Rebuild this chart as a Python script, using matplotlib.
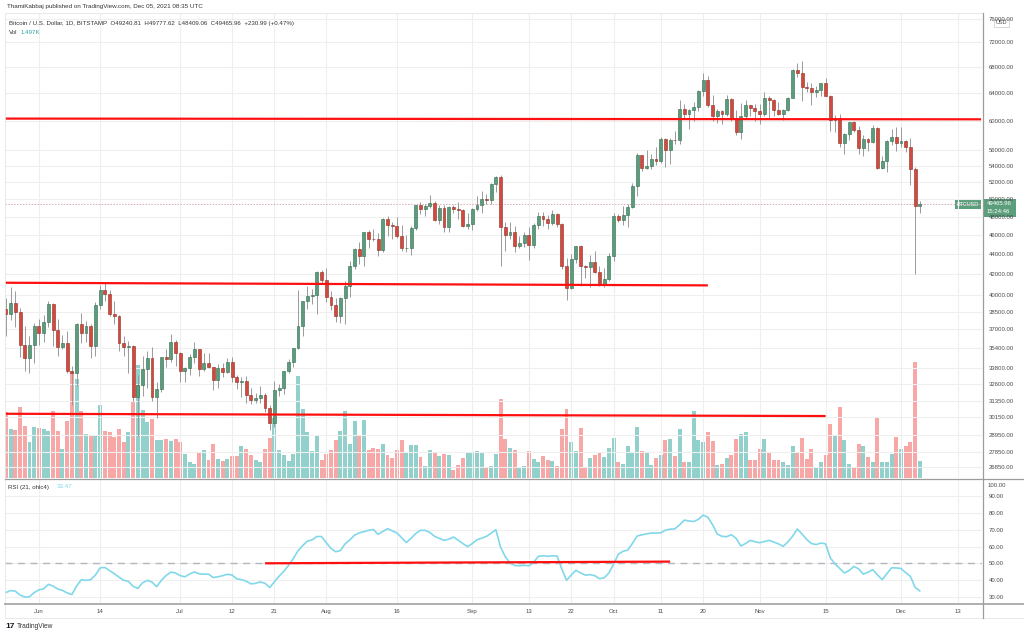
import numpy as np
import pandas as pd
import matplotlib
matplotlib.use("Agg")
import matplotlib.pyplot as plt
from matplotlib.patches import Rectangle
from matplotlib.lines import Line2D
from matplotlib.ticker import NullLocator

plt.rcParams['font.family'] = ['Liberation Sans', 'DejaVu Sans']

# daily BTC/USD (Bitstamp) 2021-05-25 .. 2021-12-05
start_date = '2021-05-25'
opens = [38800, 38300, 39300, 38500, 35700, 34600, 35700,
         37300, 36700, 37600, 39200, 36900, 35500, 35800, 33600, 33400, 37400,
         36700, 37300, 35550, 39100, 40500, 40150, 38350, 38100, 35800, 35500,
         35600, 31600, 32500, 33700, 34600, 31600, 32200, 34700, 34500, 35900,
         35040, 33570, 33800, 34700, 35300, 33700, 34200, 33900, 32870, 33800,
         33500, 34260, 33100, 32700, 32820, 31780, 31420, 31520, 31780, 30840,
         29790, 32140, 32300, 33590, 34290, 35380, 37270, 39460, 39980, 40030, 42230,
         41500, 39880, 39160, 38150, 39740, 40870, 42820, 44600, 43800, 46300,
         45600, 45570, 44430, 47800, 47100, 47040, 45930, 44690, 44700, 46760,
         49340, 48870, 49280, 49540, 47710, 48970, 46940, 49060, 48900, 48830, 47050,
         47170, 48850, 49320, 50030, 49940, 51770, 52660, 46860, 46070, 46400,
         44850, 45160, 46060, 44960, 47090, 48150, 47760, 47300, 48310, 47260,
         42840, 40690, 43570, 44880, 42840, 42720, 43200, 42230, 41030, 41520,
         43790, 48120, 47710, 48200, 49110, 51510, 55360, 53800, 53970, 54950,
         54660, 57480, 56040, 57400, 57360, 61670, 60880, 61530, 62010, 64280,
         66000, 62210, 60690, 61390, 60890, 63040, 60360, 58480, 60620, 62270, 61860,
         61320, 61000, 63230, 62970, 61450, 61000, 61500, 63300, 67550, 66970,
         64880, 64800, 64150, 64400, 65470, 63560, 60160, 60370, 56940, 58120,
         59760, 58700, 56300, 57570, 57160, 58960, 53730, 54710, 57270, 57800,
         56950, 57200, 56500, 53600, 49240.81]
highs = [39800, 40800, 40400, 38900, 37300, 36400, 37500,
         37900, 38200, 39500, 39300, 37900, 36500, 36800, 34000, 37500, 38400,
         37700, 37400, 39400, 41000, 41300, 40500, 39500, 38200, 36400, 36000,
         35700, 33300, 34800, 35200, 35500, 32700, 34700, 35300, 36600, 36100,
         35050, 33900, 34900, 35900, 35300, 35000, 35000, 33900, 34100, 34200,
         34600, 34700, 33300, 33100, 33200, 32300, 31900, 32400, 31900, 31000,
         32800, 32600, 33600, 34500, 35400, 40500, 39500, 40900, 40600, 42300, 42400,
         42600, 40400, 39800, 39900, 41400, 43300, 44700, 45300, 46400, 46600,
         46700, 46200, 47900, 48100, 47400, 48000, 47100, 46000, 47000, 49400,
         49700, 49500, 50500, 49800, 49300, 49400, 49200, 49300, 49700, 48900, 48400,
         49000, 50400, 51000, 50600, 51900, 52800, 52900, 47400, 47400, 47000,
         45900, 46400, 46900, 47300, 48500, 48500, 48200, 48800, 48400, 47300,
         43600, 44000, 44900, 45000, 42900, 43900, 44300, 42800, 42600, 44100,
         48400, 48300, 49200, 49500, 51900, 55700, 55400, 56100, 55500, 56500,
         57800, 57700, 57700, 58600, 62900, 62400, 61700, 62600, 64500, 67000,
         66600, 63700, 61700, 61500, 63700, 63300, 61500, 62500, 62900, 62300, 62400,
         62400, 64200, 63500, 63100, 62600, 61600, 63350, 67700, 68600, 69000,
         65600, 65500, 65000, 65550, 66300, 63650, 60800, 60900, 58300, 59850,
         60000, 59300, 58000, 57700, 59400, 59100, 55300, 57400, 58800, 59200,
         59100, 57400, 57600, 53900, 49777.62]
lows = [36400, 37800, 37200, 34700, 33600, 33400, 34200,
        35700, 35900, 37200, 35600, 34800, 35300, 33400, 31000, 32400, 35800,
        35900, 34600, 34800, 38800, 39500, 38100, 37400, 35200, 34800, 33400,
        31300, 28900, 31700, 32300, 31300, 30100, 32000, 33900, 34300, 34000,
        32700, 32700, 33300, 34200, 33200, 33600, 33800, 32100, 32300, 33100,
        33400, 32700, 32200, 31600, 31200, 31100, 31200, 31200, 30500, 29300,
        29500, 31700, 31800, 33400, 33900, 35300, 36400, 38800, 39200, 38300, 41100,
        39400, 38700, 37600, 37500, 37400, 39900, 42500, 43000, 42800, 44700,
        45400, 43800, 44200, 45900, 45600, 45700, 44400, 44200, 43900, 46600,
        48300, 48100, 49000, 47600, 47200, 46400, 46400, 48400, 47800, 46900, 46700,
        46600, 48700, 48400, 49500, 49500, 50900, 42800, 44400, 45600, 44200,
        44700, 44800, 43400, 44700, 46700, 47000, 46700, 47100, 46900, 42500,
        39600, 40600, 43100, 40900, 41700, 40800, 42100, 40900, 40800, 41400,
        43300, 47400, 47100, 46900, 49000, 50400, 53400, 53600, 53700, 54100,
        54400, 53900, 54300, 56900, 56900, 60200, 58900, 60000, 61400, 63500,
        62000, 60000, 59700, 59600, 60700, 59900, 58000, 57500, 60200, 60700, 60000,
        59500, 60700, 60400, 60700, 60800, 60100, 61400, 63200, 66400, 62800,
        64100, 62300, 63400, 63600, 63500, 58600, 58400, 56500, 55600, 57400,
        58500, 55600, 55300, 55900, 57000, 53600, 53600, 53300, 56700, 55900,
        56500, 55800, 51700, 42000, 48409.06]
closes = [38300, 39300, 38500, 35700, 34600, 35700, 37300,
          36700, 37600, 39200, 36900, 35500, 35800, 33600, 33400, 37400, 36700,
          37300, 35550, 39100, 40500, 40150, 38350, 38100, 35800, 35500, 35600,
          31600, 32500, 33700, 34600, 31600, 32200, 34700, 34500, 35900, 35040,
          33570, 33800, 34700, 35300, 33700, 34200, 33900, 32870, 33800, 33500,
          34260, 33100, 32700, 32820, 31780, 31420, 31520, 31780, 30840, 29790,
          32140, 32300, 33590, 34290, 35380, 37270, 39460, 39980, 40030, 42230, 41500,
          39880, 39160, 38150, 39740, 40870, 42820, 44600, 43800, 46300, 45600,
          45570, 44430, 47800, 47100, 47040, 45930, 44690, 44700, 46760, 49340,
          48870, 49280, 49540, 47710, 48970, 46940, 49060, 48900, 48830, 47050, 47170,
          48850, 49320, 50030, 49940, 51770, 52660, 46860, 46070, 46400, 44850,
          45160, 46060, 44960, 47090, 48150, 47760, 47300, 48310, 47260, 42840,
          40690, 43570, 44880, 42840, 42720, 43200, 42230, 41030, 41520, 43790,
          48120, 47710, 48200, 49110, 51510, 55360, 53800, 53970, 54950, 54660,
          57480, 56040, 57400, 57360, 61670, 60880, 61530, 62010, 64280, 66000,
          62210, 60690, 61390, 60890, 63040, 60360, 58480, 60620, 62270, 61860, 61320,
          61000, 63230, 62970, 61450, 61000, 61500, 63300, 67550, 66970, 64880,
          64800, 64150, 64400, 65470, 63560, 60160, 60370, 56940, 58120, 59760,
          58700, 56300, 57570, 57160, 58960, 53730, 54710, 57270, 57800, 56950,
          57200, 56500, 53600, 49240.81, 49465.96]
# volume, thousand BTC
volume_k = [5.9, 4.4, 4.3, 6.4, 4.7, 3.2, 4.6,
            4.5, 4.4, 4.2, 6.0, 4.2, 2.6, 5.1, 9.5, 8.9, 6.0,
            4.0, 3.9, 3.8, 6.6, 4.2, 4.1, 3.7, 4.4, 3.2, 4.1,
            6.8, 10.2, 6.1, 5.0, 5.3, 3.4, 3.4, 3.5, 3.3, 3.5,
            3.2, 2.2, 1.4, 1.3, 2.3, 2.5, 1.6, 3.1, 1.7, 1.5,
            1.7, 2.0, 2.0, 2.9, 2.6, 2.1, 1.6, 1.4, 2.6, 3.6,
            5.4, 2.5, 2.1, 1.5, 2.2, 9.2, 6.2, 4.1, 2.4, 3.8, 1.6,
            2.2, 2.5, 3.4, 4.2, 6.0, 3.1, 5.1, 3.8, 5.2, 2.5,
            2.7, 2.6, 3.1, 2.1, 1.8, 2.5, 3.4, 2.3, 3.0, 3.0,
            1.9, 1.1, 2.5, 2.3, 2.0, 2.2, 2.1, 0.7, 1.2, 1.8, 2.3,
            2.3, 2.4, 2.3, 0.9, 1.1, 2.2, 7.1, 3.5, 2.7, 2.5,
            1.0, 1.1, 2.4, 1.7, 1.4, 2.0, 1.6, 1.5, 1.1, 4.4,
            6.2, 3.2, 2.4, 4.5, 1.0, 1.8, 2.1, 2.3, 1.9, 2.7,
            3.6, 1.4, 1.3, 2.9, 2.3, 4.6, 2.4, 2.3, 1.2, 1.8,
            2.1, 3.4, 3.5, 2.0, 4.4, 1.4, 1.4, 6.0, 3.4, 3.2,
            4.1, 3.3, 1.2, 1.3, 1.8, 2.1, 3.5, 4.0, 4.1, 1.6, 1.6,
            2.6, 3.5, 2.3, 1.6, 1.6, 1.4, 1.2, 2.9, 2.3, 3.6,
            1.7, 2.6, 0.9, 1.4, 2.1, 4.9, 3.9, 6.4, 3.4, 1.3,
            0.9, 3.1, 2.9, 1.9, 1.4, 5.5, 1.4, 1.4, 2.2, 3.7,
            2.6, 2.9, 3.2, 10.4, 1.497]
rsi = [32.5, 33.7, 33.3, 31.0, 29.8, 30.0, 32.5, 34.1, 34.7, 37.4,
       36.4, 34.6, 33.8, 32.3, 31.3, 36.4, 40.2, 39.8, 40.2, 43.0,
       47.3, 47.5, 45.6, 43.8, 41.7, 39.8, 39.2, 36.2, 35.0, 38.3,
       39.8, 38.8, 36.0, 39.8, 42.7, 44.7, 44.2, 42.6, 41.9, 43.6,
       44.8, 43.7, 43.5, 43.5, 41.5, 41.9, 42.6, 43.4, 43.0, 40.7,
       40.2, 39.3, 37.7, 38.0, 38.9, 38.0, 35.5, 39.0, 42.3, 45.2,
       48.8, 52.8, 57.5, 60.6, 63.3, 64.0, 66.0, 66.0, 62.3, 58.9,
       56.9, 57.6, 61.6, 64.0, 66.8, 68.2, 68.9, 69.7, 70.2, 67.3,
       69.0, 70.7, 69.4, 68.1, 65.3, 62.4, 65.0, 67.8, 69.7, 69.7,
       68.4, 66.1, 64.9, 63.7, 64.4, 65.7, 63.8, 61.8, 59.9, 61.8,
       64.1, 65.0, 66.1, 68.0, 70.1, 59.6, 53.9, 50.2, 48.7, 48.5,
       48.8, 48.5, 50.5, 54.1, 54.5, 54.2, 54.5, 54.3, 46.6, 39.8,
       43.0, 45.8, 44.2, 42.9, 43.2, 42.6, 40.8, 41.3, 44.2, 49.5,
       55.4, 57.2, 57.9, 61.9, 66.3, 67.0, 67.6, 68.1, 68.1, 68.2,
       69.8, 70.4, 70.6, 72.9, 75.8, 75.3, 75.0, 76.3, 78.8, 77.5,
       73.1, 67.5, 66.1, 65.9, 67.1, 64.9, 60.4, 61.8, 63.7, 62.9,
       62.3, 63.0, 63.7, 62.7, 61.6, 60.1, 62.8, 66.2, 70.5, 67.5,
       64.2, 61.8, 61.2, 62.1, 61.6, 53.2, 49.6, 46.9, 44.2, 45.7,
       48.1, 46.7, 43.5, 44.6, 46.2, 43.1, 40.2, 43.8, 47.3, 47.2,
       46.9, 44.4, 42.2, 35.6, 33.47]

price_ticks = [26850, 27850, 28950, 30150, 31350, 32600, 33800, 35400, 37000,
               38500, 40000, 42000, 44000, 46000, 48000, 50000, 52000, 54000,
               56000, 60000, 64000, 68000, 72000, 76000]
rsi_ticks = [30, 40, 50, 60, 70, 80, 90]
date_ticks = ['2021-06-01', '2021-06-14', '2021-07-01', '2021-07-12', '2021-07-21',
              '2021-08-01', '2021-08-16', '2021-09-01', '2021-09-13', '2021-09-22',
              '2021-10-01', '2021-10-11', '2021-10-20', '2021-11-01', '2021-11-15',
              '2021-12-01', '2021-12-13']
date_labels = ['Jun', '14', 'Jul', '12', '21', 'Aug', '16', 'Sep', '13', '22',
               'Oct', '11', '20', 'Nov', '15', 'Dec', '13']

# drawn trend lines: (date, price) endpoints
hline_top = [('2021-05-25', 60300), ('2021-12-18', 60200)]
hline_mid = [('2021-05-25', 41200), ('2021-10-21', 40950)]
hline_low = [('2021-05-25', 30400), ('2021-11-15', 30240)]
rsi_line = [('2021-07-19', 50.0), ('2021-10-13', 51.0)]

o = np.array(opens, float)
h = np.array(highs, float)
l = np.array(lows, float)
c = np.array(closes, float)
t0 = pd.Timestamp(start_date)
dates = pd.date_range(t0, periods=len(c), freq='D')
x = np.arange(len(c))


def day(d):
    return (pd.Timestamp(d) - t0).days


W, H = 1024, 636
fig = plt.figure(figsize=(W / 100, H / 100), dpi=100)
fig.patch.set_facecolor('white')


def fx(px):
    return px / W


def fy(py):
    return 1 - py / H


up_fill, up_edge = '#5a9c7b', '#2f6b4c'
dn_fill, dn_edge = '#d24a3d', '#8e2a21'
vol_up, vol_dn = '#92d1cb', '#f7a8a6'
grid_c = '#efefef'
txt_c = '#4a4a4a'
fs = 4.3

x_left, x_right = -0.2, 207.2
ax = fig.add_axes([fx(5), fy(478), fx(977), 465 / H])
axv = ax.twinx()
ax.set_zorder(axv.get_zorder() + 1)
ax.patch.set_visible(False)
axv.patch.set_facecolor('white')

rising = c >= o
axv.bar(x, volume_k, width=0.84, color=np.where(rising, vol_up, vol_dn), linewidth=0)
axv.set_ylim(0, 41.85)
axv.set_yticks([])
for s in axv.spines.values():
    s.set_visible(False)

ax.set_yscale('log')
for p in price_ticks:
    ax.axhline(p, color=grid_c, lw=0.8, zorder=0)
tick_x = [day(d) for d in date_ticks]
for tx in tick_x:
    ax.axvline(tx, color=grid_c, lw=0.8, zorder=0)

ax.vlines(x, l, h, color='#9a9a9a', lw=0.7, zorder=2)
ax.bar(x, np.maximum(np.abs(c - o), 1.0), bottom=np.minimum(o, c), width=0.62,
       color=np.where(rising, up_fill, dn_fill),
       edgecolor=np.where(rising, up_edge, dn_edge), linewidth=0.4, zorder=3)

for seg in (hline_top, hline_mid, hline_low):
    ax.plot([day(seg[0][0]) - 0.2, day(seg[1][0])], [seg[0][1], seg[1][1]],
            color='#ff1010', lw=1.6, zorder=4, solid_capstyle='butt')

ax.axhline(c[-1], color='#d9a9b3', lw=0.7, ls=(0, (1.5, 1.5)), zorder=1)

ax.set_xlim(x_left, x_right)
ax.set_ylim(26191, 77040)
ax.yaxis.tick_right()
ax.yaxis.set_minor_locator(NullLocator())
ax.set_yticks(price_ticks)
ax.set_yticklabels(['%.2f' % p for p in price_ticks])
ax.tick_params(axis='y', length=0, pad=5, labelsize=fs, labelcolor=txt_c)
ax.set_xticks(tick_x)
ax.tick_params(axis='x', length=0, labelbottom=False)
for s in ax.spines.values():
    s.set_visible(False)

# RSI pane
axr = fig.add_axes([fx(5), fy(603), fx(977), 124 / H])
for r in rsi_ticks:
    axr.axhline(r, color=grid_c, lw=0.8, zorder=0)
for tx in tick_x:
    axr.axvline(tx, color=grid_c, lw=0.8, zorder=0)
axr.axhline(50, color='#b4b6bd', lw=1.0, ls=(0, (5, 4)), zorder=1)
axr.plot(x, rsi, color='#80d8ea', lw=1.2, zorder=3)
axr.plot([day(rsi_line[0][0]), day(rsi_line[1][0])], [rsi_line[0][1], rsi_line[1][1]],
         color='#ff1010', lw=1.6, zorder=4, solid_capstyle='butt')
axr.set_xlim(x_left, x_right)
axr.set_ylim(26.25, 100.4)
axr.yaxis.tick_right()
axr.set_yticks(rsi_ticks)
axr.set_yticklabels(['%.2f' % r for r in rsi_ticks])
axr.tick_params(axis='y', length=0, pad=5, labelsize=fs, labelcolor=txt_c)
axr.set_xticks(tick_x)
axr.set_xticklabels(date_labels)
axr.tick_params(axis='x', length=0, pad=4, labelsize=fs, labelcolor=txt_c)
for s in axr.spines.values():
    s.set_visible(False)

# frame lines
def fline(x0, y0, x1, y1, color, lw):
    fig.add_artist(Line2D([fx(x0), fx(x1)], [fy(y0), fy(y1)], color=color, lw=lw,
                          transform=fig.transFigure))

fline(5, 13, 982, 13, '#e6e6e6', 0.6)
fline(5, 13, 5, 617, '#e6e6e6', 0.6)
fline(5, 478.6, W, 478.6, '#9c9c9c', 0.9)
fline(5, 603.5, W, 603.5, '#a8a8a8', 1.3)
fline(5, 617.5, W, 617.5, '#e6e6e6', 0.6)
fline(982.5, 13, 982.5, 617.5, '#9c9c9c', 0.9)

fig.text(fx(988), fy(485.5), '100.00', fontsize=fs, color=txt_c, va='center')

# last price labels
green_lbl = '#5a9e7c'
fig.add_artist(Rectangle((fx(983), fy(216.5)), fx(33), 17.5 / H, transform=fig.transFigure,
                         facecolor=green_lbl, edgecolor='none'))
fig.text(fx(987), fy(203.5), '%.2f' % c[-1], fontsize=fs, color='white', va='center')
fig.text(fx(987), fy(211.5), '15:24:46', fontsize=fs, color='white', va='center')
fig.add_artist(Rectangle((fx(955), fy(208.5)), fx(26), 8.5 / H, transform=fig.transFigure,
                         facecolor=green_lbl, edgecolor='none'))
fig.text(fx(968), fy(204.2), 'BTCUSD', fontsize=4.0, color='white', va='center', ha='center')
fig.add_artist(Rectangle((fx(994), fy(26.5)), fx(15), 7.5 / H, transform=fig.transFigure,
                         facecolor='white', edgecolor='#c8c8c8', lw=0.5))
fig.text(fx(1001.5), fy(22.7), 'USD', fontsize=4.0, color=txt_c, va='center', ha='center')

# header
fig.text(fx(7), fy(6.5), 'ThamiKabbaj published on TradingView.com, Dec 05, 2021 08:35 UTC',
         fontsize=4.5, color='#333333', va='center')
hdr = ('Bitcoin / U.S. Dollar, 1D, BITSTAMP  O%.2f  H%.2f  L%.2f  C%.2f  +230.99 (+0.47%%)'
       % (o[-1], h[-1], l[-1], c[-1]))
fig.text(fx(9), fy(23.5), hdr, fontsize=4.4, color='#333333', va='center')
fig.text(fx(9), fy(32.5), 'Vol', fontsize=4.4, color='#333333', va='center')
fig.text(fx(21), fy(32.5), '%.3fK' % volume_k[-1], fontsize=4.4, color='#26a69a', va='center')
fig.text(fx(8), fy(487), 'RSI (21, ohlc4)', fontsize=4.4, color='#333333', va='center')
fig.text(fx(57), fy(487), '%.2f' % rsi[-1], fontsize=4.4, color='#80d8ea', va='center')

# footer
fig.text(fx(5), fy(627), '17', fontsize=6, fontweight='bold', color='#131722', va='center')
fig.text(fx(17), fy(627), 'TradingView', fontsize=4.8, color='#333333', va='center')

fig.savefig('out.png', dpi=100, facecolor='white')
